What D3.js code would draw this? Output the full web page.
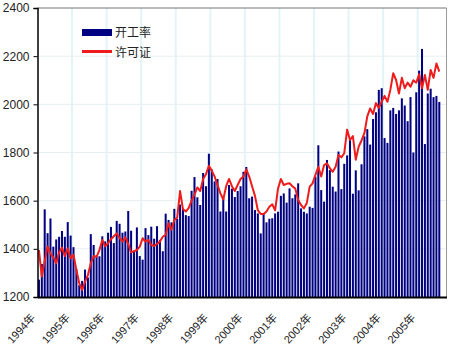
<!DOCTYPE html>
<html>
<head>
<meta charset="utf-8">
<script src="https://cdn.jsdelivr.net/npm/d3@7"></script>
<style>
  body { margin: 0; background: #fff; }
  svg { display: block; }
  text { font-family: "Liberation Sans", Arial, "Noto Sans CJK SC", sans-serif; }
</style>
</head>
<body>
<svg id="chart" width="450" height="347"></svg>
<script>
// Monthly series, January 1994 onward (seasonally adjusted annual rate, thousands)
const yearLabels = ["1994年","1995年","1996年","1997年","1998年","1999年",
                    "2000年","2001年","2002年","2003年","2004年","2005年"];
const seriesNames = ["开工率", "许可证"];
const yTicks = [1200, 1400, 1600, 1800, 2000, 2200, 2400];
const monthSlots = 142;

const housingStarts = [
  1272,1337,1564,1465,1526,1409,1439,1450,1474,1450,1511,1455,
  1407,1316,1249,1267,1314,1281,1461,1416,1369,1369,1452,1431,
  1467,1491,1424,1516,1504,1467,1472,1557,1475,1392,1489,1370,
  1355,1486,1457,1492,1442,1494,1437,1390,1546,1520,1510,1566,
  1525,1584,1567,1540,1536,1641,1698,1614,1582,1715,1660,1795,
  1730,1680,1690,1555,1610,1555,1665,1650,1615,1640,1660,1720,
  1740,1610,1617,1561,1547,1464,1547,1510,1525,1527,1547,1554,
  1620,1630,1592,1651,1610,1626,1672,1568,1554,1547,1575,1570,
  1700,1830,1644,1596,1769,1727,1658,1638,1804,1648,1753,1788,
  1853,1629,1726,1643,1751,1867,1897,1833,1939,1967,2060,2067,
  1860,1840,1975,1985,1960,1975,2025,1995,1930,2030,1800,2050,
  2140,2230,1835,2045,2065,2030,2035,2010
];

const permits = [
  1395,1285,1350,1410,1380,1365,1340,1385,1405,1370,1402,1360,
  1375,1312,1257,1229,1264,1291,1340,1370,1367,1395,1437,1410,
  1423,1440,1452,1464,1445,1430,1448,1420,1385,1390,1395,1409,
  1444,1430,1437,1416,1412,1420,1430,1450,1458,1506,1479,1520,
  1530,1640,1565,1555,1570,1600,1625,1655,1640,1690,1710,1745,
  1725,1700,1665,1630,1605,1660,1690,1660,1640,1665,1690,1700,
  1730,1700,1660,1620,1560,1545,1545,1555,1575,1585,1560,1650,
  1690,1665,1670,1672,1660,1650,1603,1582,1568,1590,1658,1672,
  1707,1741,1700,1748,1755,1735,1720,1741,1790,1780,1797,1895,
  1852,1868,1770,1824,1850,1880,1950,1983,1960,2005,1985,2011,
  2035,2011,2060,2129,2101,2045,2110,2067,2090,2073,2100,2090,
  2125,2067,2122,2060,2143,2110,2170,2136
];

const barColor = "#000080";
const lineColor = "#ee1c1c";

const svg = d3.select("#chart");
const plot = { left: 37.5, right: 446.5, top: 8, bottom: 297 };

const x = d3.scaleBand()
  .domain(d3.range(monthSlots))
  .range([plot.left, plot.right])
  .paddingInner(0.3)
  .paddingOuter(0.15);

const y = d3.scaleLinear()
  .domain([yTicks[0], yTicks[yTicks.length - 1]])
  .range([plot.bottom, plot.top]);

const slotLeft = i => plot.left + i * (plot.right - plot.left) / monthSlots;

// light year gridlines
svg.append("g")
  .selectAll("line")
  .data(d3.range(1, yearLabels.length))
  .join("line")
  .attr("x1", k => slotLeft(k * 12)).attr("x2", k => slotLeft(k * 12))
  .attr("y1", plot.top).attr("y2", plot.bottom)
  .attr("stroke", "#e2f4f7").attr("stroke-width", 2);

// light value gridlines
svg.append("g")
  .selectAll("line")
  .data(yTicks.slice(1, -1))
  .join("line")
  .attr("x1", plot.left).attr("x2", plot.right)
  .attr("y1", d => y(d)).attr("y2", d => y(d))
  .attr("stroke", "#e6eef2").attr("stroke-width", 1);

// bars
svg.append("g")
  .selectAll("rect")
  .data(housingStarts)
  .join("rect")
  .attr("x", (d, i) => x(i))
  .attr("width", x.bandwidth())
  .attr("y", d => y(d))
  .attr("height", d => plot.bottom - y(d))
  .attr("fill", barColor);

// permits line
const line = d3.line()
  .x((d, i) => x(i) + x.bandwidth() / 2)
  .y(d => y(d));
svg.append("path")
  .datum(permits)
  .attr("d", line)
  .attr("fill", "none")
  .attr("stroke", lineColor)
  .attr("stroke-width", 2)
  .attr("stroke-linejoin", "round");

// frame
svg.append("line")
  .attr("x1", plot.left).attr("x2", plot.right)
  .attr("y1", plot.top).attr("y2", plot.top)
  .attr("stroke", "#777").attr("stroke-width", 1);
svg.append("line")
  .attr("x1", plot.right).attr("x2", plot.right)
  .attr("y1", plot.top).attr("y2", plot.bottom)
  .attr("stroke", "#999").attr("stroke-width", 1);

// y axis
const yAxis = d3.axisLeft(y)
  .tickValues(yTicks)
  .tickFormat(d3.format("d"))
  .tickSize(4)
  .tickPadding(4);
const gy = svg.append("g")
  .attr("transform", `translate(${plot.left},0)`)
  .call(yAxis);
gy.select(".domain").attr("stroke", "#000").attr("stroke-width", 1.5);
gy.selectAll(".tick line").attr("stroke", "#000");
gy.selectAll(".tick text")
  .attr("font-size", 12)
  .attr("fill", "#222")
  .style("font-family", '"Liberation Sans", Arial, sans-serif');

// x axis with rotated year labels
const xAxis = d3.axisBottom(x)
  .tickValues(d3.range(0, monthSlots, 12))
  .tickFormat(i => yearLabels[i / 12])
  .tickSize(0);
const gx = svg.append("g")
  .attr("transform", `translate(0,${plot.bottom})`)
  .call(xAxis);
gx.select(".domain").attr("stroke", "#000").attr("stroke-width", 2);
gx.selectAll(".tick text")
  .attr("font-size", 11)
  .attr("fill", "#222")
  .attr("text-anchor", "end")
  .attr("x", 0).attr("y", 0).attr("dy", 0)
  .attr("transform", "translate(-3,21) rotate(-48)");

// legend
const legend = svg.append("g");
legend.append("rect")
  .attr("x", 82).attr("y", 29).attr("width", 30).attr("height", 7)
  .attr("fill", barColor);
legend.append("line")
  .attr("x1", 82).attr("x2", 112).attr("y1", 51.5).attr("y2", 51.5)
  .attr("stroke", lineColor).attr("stroke-width", 3);
legend.selectAll("text")
  .data(seriesNames)
  .join("text")
  .attr("x", 115)
  .attr("y", (d, i) => 37 + i * 19.5)
  .attr("font-size", 12)
  .attr("fill", "#222")
  .style("font-family", '"Noto Sans CJK SC", sans-serif')
  .text(d => d);
</script>
</body>
</html>
